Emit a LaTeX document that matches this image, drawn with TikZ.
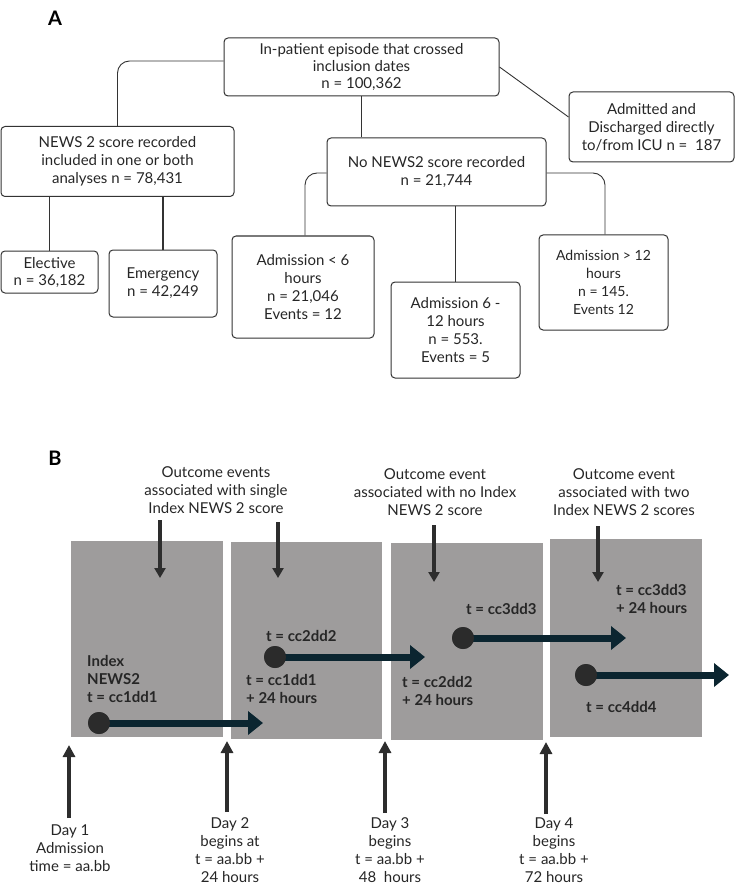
\documentclass[tikz,border=0pt]{standalone}
\usepackage{fontspec}
\setmainfont{Lato}
\usetikzlibrary{arrows.meta}
\definecolor{lineC}{HTML}{333333}
\definecolor{txtC}{HTML}{262626}
\definecolor{greyC}{HTML}{9E9C9C}
\definecolor{navyC}{HTML}{0B2530}
\definecolor{dotC}{HTML}{2B2B2B}
\definecolor{darrC}{HTML}{2D2D2D}
\tikzset{
  fbox/.style={draw=lineC, line width=1pt, rounded corners=4pt, align=center,
    font=\fontsize{15}{17}\selectfont, text=txtC, inner sep=0pt},
  conn/.style={draw=lineC, line width=0.9pt},
  thickconn/.style={draw=lineC, line width=1.6pt},
  panel/.style={fill=greyC, draw=none, inner sep=0pt},
  plain/.style={align=center, font=\fontsize{15}{18}\selectfont, text=txtC, inner sep=0pt},
  blabel/.style={align=left, anchor=west, font=\bfseries\fontsize{15}{18}\selectfont, text=txtC, inner sep=0pt},
  downarr/.style={draw=darrC, line width=4.5pt, -{Triangle[width=11pt,length=10pt]}},
  uparr/.style={draw=darrC, line width=4.5pt, -{Triangle[width=12pt,length=12pt]}},
  navyarr/.style={draw=navyC, line width=7pt, -{Triangle[width=23pt,length=15pt]}},
  dot/.style={circle, fill=dotC, minimum size=22pt, inner sep=0pt},
  letter/.style={font=\bfseries\fontsize{20}{24}\selectfont, text=black, inner sep=0pt}
}
\begin{document}
\begin{tikzpicture}[x=1pt,y=-1pt]
\useasboundingbox (0,0) rectangle (736,885);
% ---------- Panel A ----------
\node[letter] (lA) at (55,18) {A};
\node[fbox, minimum width=275pt, minimum height=58pt] (top) at (361.5,67)
  {In-patient episode that crossed\\inclusion dates\\n = 100,362};
\node[fbox, minimum width=165pt, minimum height=70pt, font=\fontsize{15}{18}\selectfont] (icu) at (651.5,127)
  {Admitted and\\Discharged directly\\to/from ICU n =\ \ 187};
\node[fbox, minimum width=233pt, minimum height=70pt, font=\fontsize{15}{18}\selectfont] (news) at (117.5,161.5)
  {NEWS 2 score recorded\\included in one or both\\analyses n = 78,431};
\node[fbox, minimum width=219pt, minimum height=68pt, font=\fontsize{15}{18}\selectfont] (nonews) at (436.5,172)
  {No NEWS2 score recorded\\n = 21,744};
\node[fbox, minimum width=97pt, minimum height=42pt] (elective) at (49.5,272)
  {Elective\\n = 36,182};
\node[fbox, minimum width=108pt, minimum height=67pt, font=\fontsize{15}{18}\selectfont] (emerg) at (163,283.5)
  {Emergency\\n = 42,249};
\node[fbox, minimum width=142pt, minimum height=102pt, font=\fontsize{15}{18}\selectfont] (adm6) at (303,287)
  {Admission < 6\\hours\\n = 21,046\\Events = 12};
\node[fbox, minimum width=129pt, minimum height=96pt, font=\fontsize{15}{18}\selectfont] (adm612) at (455.5,330)
  {Admission 6 -\\12 hours\\n = 553.\\Events = 5};
\node[fbox, minimum width=129pt, minimum height=95pt, font=\fontsize{14}{18}\selectfont] (adm12) at (603.5,282.5)
  {Admission > 12\\hours\\n = 145.\\Events 12};

\draw[conn, rounded corners=12pt] ([yshift=6pt]top.west) -| (news.north);
\draw[thickconn] (top.south) -- (top.south |- nonews.north);
\draw[conn] (top.east) -- ([yshift=10pt]icu.west);
\draw[conn, rounded corners=12pt] ([yshift=-1pt]nonews.west) -| ([xshift=2pt]adm6.north);
\draw[conn, rounded corners=12pt] ([yshift=-1pt]nonews.east) -| ([xshift=1.5pt]adm12.north);
\draw[conn] (adm612.north |- nonews.south) -- (adm612.north);
\draw[conn] (elective.north |- news.south) -- (elective.north);
\draw[thickconn] (emerg.north |- news.south) -- (emerg.north);

% ---------- Panel B ----------
\node[letter] (lB) at (55,458) {B};
\node[panel, minimum width=152pt, minimum height=196pt] (g1) at (147,639) {};
\node[panel, minimum width=151pt, minimum height=197pt] (g2) at (306.5,640.5) {};
\node[panel, minimum width=152pt, minimum height=197pt] (g3) at (467,641.5) {};
\node[panel, minimum width=152pt, minimum height=198pt] (g4) at (626,638) {};

\node[plain] (o1) at (216,490) {Outcome events\\associated with single\\Index NEWS 2 score};
\node[plain] (o2) at (435,492) {Outcome event\\associated with no Index\\NEWS 2 score};
\node[plain] (o3) at (624,492) {Outcome event\\associated with two\\Index NEWS 2 scores};

\coordinate (s1) at (160,520); \coordinate (e1) at (160,578);
\coordinate (s2) at (278,522); \coordinate (e2) at (278,578);
\coordinate (s3) at (434,525); \coordinate (e3) at (434,582);
\coordinate (s4) at (598,526); \coordinate (e4) at (598,582);
\draw[downarr] (s1) -- (e1);
\draw[downarr] (s2) -- (e2);
\draw[downarr] (s3) -- (e3);
\draw[downarr] (s4) -- (e4);

% navy arrows with dots
\node[dot] (c1) at (99,723) {};
\node[dot] (c2) at (275,657) {};
\node[dot] (c3) at (463,638) {};
\node[dot] (c4) at (586,675) {};
\coordinate (t1) at (263,723);
\coordinate (t2) at (425,657);
\coordinate (t3) at (626,638);
\coordinate (t4) at (729,675);
\draw[navyarr] (c1.center) -- (t1);
\draw[navyarr] (c2.center) -- (t2);
\draw[navyarr] (c3.center) -- (t3);
\draw[navyarr] (c4.center) -- (t4);
\node[dot] at (c1) {};
\node[dot] at (c2) {};
\node[dot] at (c3) {};
\node[dot] at (c4) {};

% bold labels
\node[blabel] (b1) at (87,679) {Index\\NEWS2\\t = cc1dd1};
\node[blabel] (b2) at (266,636) {t = cc2dd2};
\node[blabel] (b3) at (246,689) {t = cc1dd1\\+ 24 hours};
\node[blabel] (b4) at (466,609) {t = cc3dd3};
\node[blabel] (b5) at (402,691) {t = cc2dd2\\+ 24 hours};
\node[blabel] (b6) at (616,599) {t = cc3dd3\\+ 24 hours};
\node[blabel] (b7) at (586,707) {t = cc4dd4};

% bottom up arrows and labels
\node[plain] (d1) at (70,848) {Day 1\\Admission\\time = aa.bb};
\node[plain] (d2) at (230,850) {Day 2\\begins at\\t = aa.bb +\\24 hours};
\node[plain] (d3) at (390,850) {Day 3\\begins\\t = aa.bb +\\48\ \ hours};
\node[plain] (d4) at (554,850) {Day 4\\begins\\t = aa.bb +\\72 hours};
\coordinate (u1s) at (69,818); \coordinate (u1e) at (69,745);
\coordinate (u2s) at (227,812); \coordinate (u2e) at (227,741);
\coordinate (u3s) at (385,813); \coordinate (u3e) at (385,741);
\coordinate (u4s) at (546,814); \coordinate (u4e) at (546,742);
\draw[uparr] (u1s) -- (u1e);
\draw[uparr] (u2s) -- (u2e);
\draw[uparr] (u3s) -- (u3e);
\draw[uparr] (u4s) -- (u4e);
\end{tikzpicture}
\end{document}
